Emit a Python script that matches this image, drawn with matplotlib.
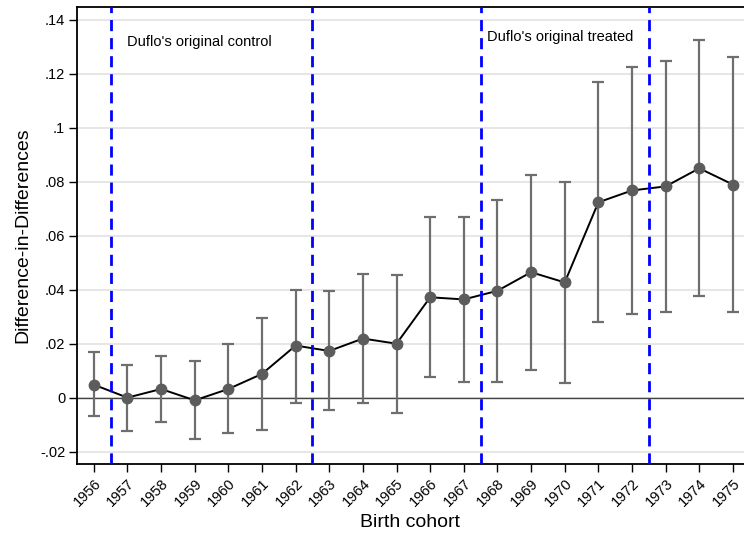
"""
Event-study plot: difference-in-differences estimates by birth cohort
"""
import numpy as np
import matplotlib.pyplot as plt

plt.rcParams['font.family'] = ['Liberation Sans', 'DejaVu Sans']
plt.rcParams['axes.unicode_minus'] = False

# Point estimates and 95% CI bounds per cohort
cohorts = np.arange(1956, 1976)
estimate = [0.0048, 0.0000, 0.0032, -0.0010, 0.0032, 0.0088, 0.0193, 0.0173, 0.0219, 0.0200,
            0.0372, 0.0364, 0.0396, 0.0465, 0.0427, 0.0724, 0.0768, 0.0783, 0.0850, 0.0790]
ci_upper = [0.0168, 0.0121, 0.0153, 0.0135, 0.0199, 0.0297, 0.0400, 0.0394, 0.0459, 0.0456,
            0.0668, 0.0670, 0.0734, 0.0826, 0.0800, 0.1169, 0.1227, 0.1248, 0.1327, 0.1263]
ci_lower = [-0.0069, -0.0122, -0.0091, -0.0153, -0.0132, -0.0121, -0.0019, -0.0044, -0.0020, -0.0056,
            0.0075, 0.0058, 0.0057, 0.0101, 0.0056, 0.0279, 0.0310, 0.0319, 0.0375, 0.0317]

# Group boundaries and labels
boundaries = [1956.5, 1962.5, 1967.5, 1972.5]
yticks = [-0.02, 0, 0.02, 0.04, 0.06, 0.08, 0.10, 0.12, 0.14]
ytick_labels = ['-.02', '0', '.02', '.04', '.06', '.08', '.1', '.12', '.14']

est = np.array(estimate)
lo = np.array(ci_lower)
hi = np.array(ci_upper)

fig = plt.figure(figsize=(7.44, 5.35), dpi=100)
ax = fig.add_axes([77 / 744, 71 / 535, (744 - 77) / 744, 457 / 535])

ax.set_xlim(1955.5, 1975.33)
ax.set_ylim(-0.0246, 0.1448)

# Light horizontal grid and the zero reference line
for yv in yticks:
    ax.axhline(yv, color='#e1e1e1', lw=1.2, zorder=0)
ax.axhline(0, color='#444444', lw=1.0, zorder=1)

# Confidence intervals
ax.errorbar(cohorts, est, yerr=[est - lo, hi - est], fmt='none', ecolor='#6e6e6e',
            elinewidth=1.6, capsize=4, capthick=1.6, zorder=2)

# Connecting line and markers
ax.plot(cohorts, est, color='black', lw=1.4, zorder=3)
ax.plot(cohorts, est, 'o', color='#5c5c5c', ms=7.5, zorder=4)

for b in boundaries:
    ax.axvline(b, color='#0000ff', lw=2, ls=(0, (4, 2.5)), zorder=5)

ax.text(1957.0, 0.1318, "Duflo's original control", fontsize=10.5, ha='left', va='center')
ax.text(1967.7, 0.1336, "Duflo's original treated", fontsize=10.5, ha='left', va='center')

ax.set_xticks(cohorts)
ax.set_xticklabels([str(c) for c in cohorts], rotation=45, ha='right', rotation_mode='anchor',
                   fontsize=10.5)
ax.set_yticks(yticks)
ax.set_yticklabels(ytick_labels, fontsize=10.5)
ax.tick_params(direction='out', length=5.5, width=1, color='black', pad=3)

ax.spines['right'].set_visible(False)
for s in ['left', 'bottom', 'top']:
    ax.spines[s].set_linewidth(1.3)

ax.set_xlabel('Birth cohort', fontsize=14, labelpad=4)
ax.set_ylabel('Difference-in-Differences', fontsize=14, labelpad=6)

fig.savefig('out.png', dpi=100)
